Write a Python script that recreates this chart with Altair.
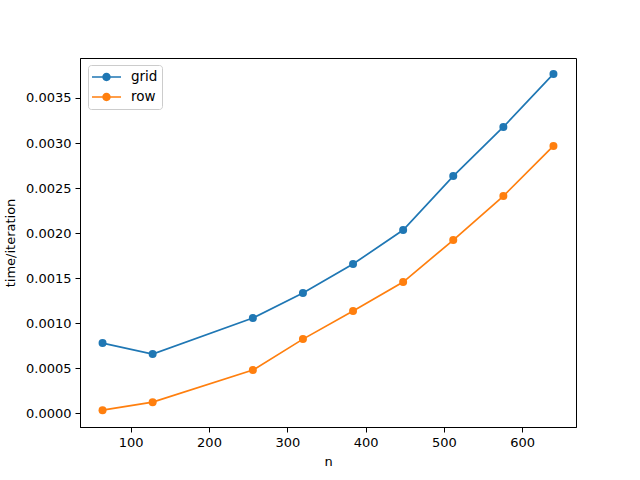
import altair as alt
import pandas as pd

n_values = [64, 128, 256, 320, 384, 448, 512, 576, 640]
grid_times = [0.000778, 0.000656, 0.001056, 0.001333, 0.001656, 0.002033, 0.002633, 0.003178, 0.003767]
row_times = [0.000033, 0.000122, 0.000478, 0.000822, 0.001133, 0.001456, 0.001922, 0.002411, 0.002967]
series_names = ["grid", "row"]
series_colors = ["#1f77b4", "#ff7f0e"]
x_ticks = [100, 200, 300, 400, 500, 600]
y_ticks = [0.0, 0.0005, 0.001, 0.0015, 0.002, 0.0025, 0.003, 0.0035]

rows = []
for name, vals in zip(series_names, [grid_times, row_times]):
    for n, v in zip(n_values, vals):
        rows.append({"n": n, "time": v, "series": name})
df = pd.DataFrame(rows)

FONT = "DejaVu Sans"
legend_symbol = ("M -1 -0.055 L 1 -0.055 L 1 0.055 L -1 0.055 Z "
                 "M 0.29 0 A 0.29 0.29 0 1 1 -0.29 0 A 0.29 0.29 0 1 1 0.29 0 Z")

x = alt.X("n:Q", title="n",
          scale=alt.Scale(domain=[35.2, 668.8], nice=False, zero=False),
          axis=alt.Axis(values=x_ticks, format="d", grid=False))
y = alt.Y("time:Q", title="time/iteration",
          scale=alt.Scale(domain=[-0.000154, 0.003944], nice=False, zero=False),
          axis=alt.Axis(values=y_ticks, format=".4f", grid=False))
color = alt.Color("series:N",
                  scale=alt.Scale(domain=series_names, range=series_colors),
                  legend=alt.Legend(title=None, orient="none", legendX=8, legendY=7,
                                    symbolType=legend_symbol, symbolSize=841,
                                    symbolStrokeWidth=0,
                                    labelFont=FONT, labelFontSize=13.5, labelOffset=10,
                                    fillColor="white", strokeColor="#cccccc",
                                    cornerRadius=3, padding=4, rowPadding=4,
                                    clipHeight=16, symbolOffset=0))

lines = alt.Chart(df).mark_line(strokeWidth=1.7).encode(x=x, y=y, color=color)
points = alt.Chart(df).mark_point(filled=True, size=64, opacity=1).encode(x=x, y=y, color=color)

chart = (lines + points).properties(
    width=496, height=369,
    autosize=alt.AutoSizeParams(type="none"),
    padding={"left": 80, "top": 58, "right": 64, "bottom": 53},
).configure_view(stroke="black", strokeWidth=1).configure_axis(
    domainColor="black", tickColor="black", tickSize=5, labelPadding=4,
    labelFont=FONT, labelFontSize=13, labelColor="black",
    titleFont=FONT, titleFontSize=13, titleFontWeight="normal", titleColor="black",
).configure_axisX(titlePadding=6).configure_axisY(titlePadding=8)

chart.save("out.html", embed_options={"renderer": "svg", "actions": False})
